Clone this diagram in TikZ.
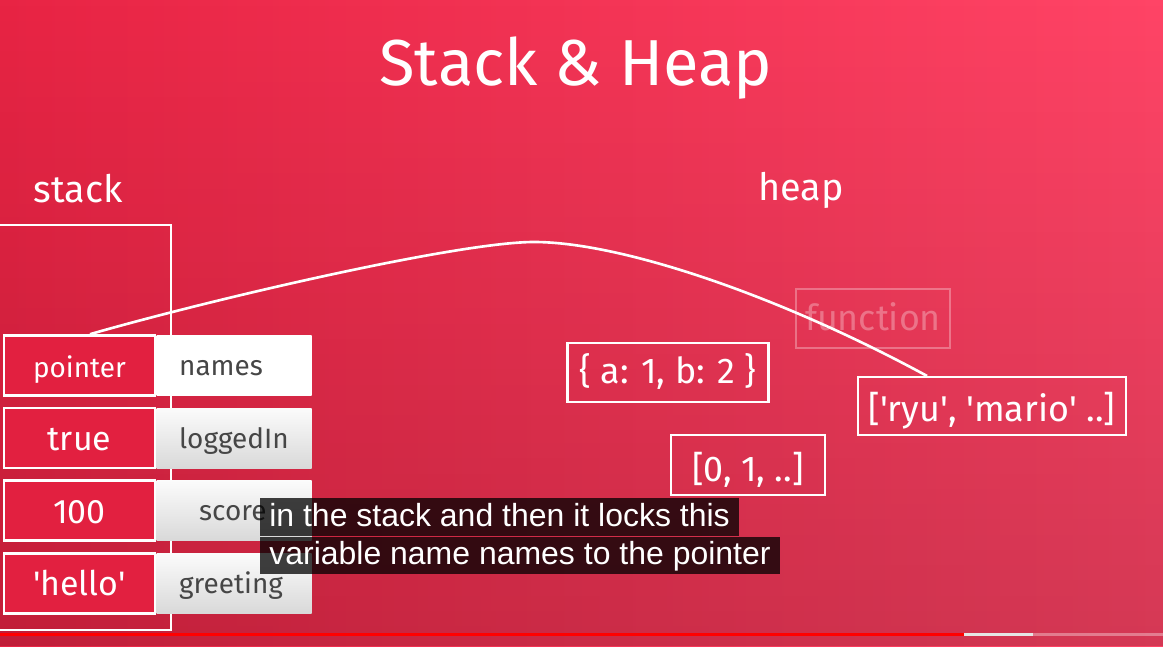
\documentclass[tikz,border=0pt]{standalone}
\usepackage{fontspec}
\setmainfont{Fira Sans}
\newfontfamily\capfont{Liberation Sans}
\usetikzlibrary{positioning,calc,fadings}

\definecolor{bgleft}{RGB}{232,36,68}
\definecolor{bgright}{RGB}{255,68,102}
\definecolor{cellred}{RGB}{226,32,64}
\definecolor{labelgray}{RGB}{70,70,70}
\newcommand\sq{\textquotesingle}

\begin{document}
\begin{tikzpicture}[x=0.02cm,y=-0.02cm,
  valbox/.style={draw=white, line width=1.5pt, fill=cellred, text=white, minimum width=3.02cm, minimum height=1.2cm, inner sep=0pt, text height=0.5cm, text depth=0pt, font=\fontsize{19.3}{22}\selectfont},
  namebox/.style={top color=gray!3, bottom color=gray!30, text=labelgray, minimum height=1.2cm, text width=2.2cm, align=left, inner xsep=0.45cm, inner ysep=0pt, text height=0.4cm, text depth=0pt, font=\fontsize{15.9}{18}\selectfont},
  heapbox/.style={draw=white, line width=1.2pt, text=white, inner sep=0pt, text depth=0pt, font=\fontsize{20.4}{24}\selectfont},
  caption/.style={fill=black, fill opacity=0.75, text opacity=1, text=white, anchor=north west, inner xsep=0.18cm, inner ysep=0pt, minimum height=0.75cm, text height=0.46cm, text depth=0.1cm, font=\capfont\fontsize{18.2}{20}\selectfont}]

\useasboundingbox (0,0) rectangle (1163,646);
\shade[left color=bgleft, right color=bgright] (0,0) rectangle (1163,646);
\fill[black, path fading=north, fill opacity=0.17] (0,0) rectangle (1163,646);

\node[text=white, anchor=base, font=\fontsize{37}{42}\selectfont] (title) at (576,85) {Stack \& Heap};
\node[text=white, anchor=base, font=\fontsize{21.5}{24}\selectfont] (stacklbl) at (78,202) {stack};
\node[text=white, anchor=base, font=\fontsize{21.5}{24}\selectfont] (heaplbl) at (801,200) {heap};

\draw[white, line width=1.2pt] (-5,225) -- (171,225) -- (171,630) -- (-5,630);

\node[valbox, font=\fontsize{15.9}{18}\selectfont, text height=0.46cm] (v1) at (79.5,365.5) {pointer};
\node[namebox, right=0pt of v1, top color=white, bottom color=white] (n1) {names};
\node[valbox, below=0.2cm of v1] (v2) {true};
\node[namebox, right=0pt of v2] (n2) {loggedIn};
\node[valbox, below=0.2cm of v2] (v3) {100};
\node[namebox, right=0pt of v3] (n3) {\hspace{0.4cm}score};
\node[valbox, below=0.2cm of v3] (v4) {\sq hello\sq};
\node[namebox, right=0pt of v4] (n4) {greeting};

\node[heapbox, minimum width=4.02cm, minimum height=1.18cm, text height=0.42cm] (obj) at (668,372.5) {\{ a: 1, b: 2 \}};
\node[heapbox, draw opacity=0.3, text opacity=0.3, minimum width=3.08cm, minimum height=1.18cm, text height=0.46cm] (func) at (873,318.5) {function};
\node[heapbox, minimum width=5.36cm, minimum height=1.16cm, text height=0.62cm] (arr) at (992,406) {[\sq ryu\sq, \sq mario\sq{} ..]};
\node[heapbox, minimum width=3.08cm, minimum height=1.2cm, text height=0.64cm] (nums) at (748,465) {[0, 1, ..]};

\coordinate (top) at (534,242);
\draw[white, line width=1.5pt] ([xshift=0.21cm]v1.north) .. controls (220,297) and (460,242) .. (top)
  .. controls (620,242) and (777,294.5) .. ([xshift=-1.3cm]arr.north);

\node[caption] (cap1) at (260,498) {in the stack and then it locks this};
\node[caption] (cap2) at (cap1.south west) {variable name names to the pointer};

\draw[red, line width=1.7pt] (0,634) -- (964,634);
\draw[white!80!gray, line width=1.7pt] (964,634) -- (1033,634);
\draw[white, opacity=0.35, line width=1.7pt] (1033,634) -- (1163,634);
\end{tikzpicture}
\end{document}
